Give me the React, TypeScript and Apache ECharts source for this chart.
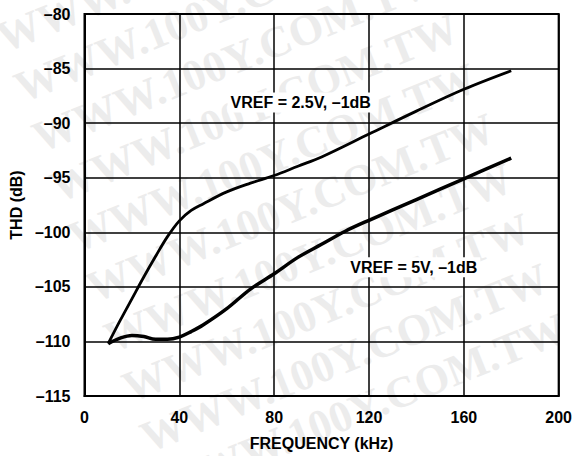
import React, { useEffect, useRef } from "react";
import * as echarts from "echarts";

const xTicks = [0, 40, 80, 120, 160, 200];
const yRange = [-115, -80];

const upperFreq = [10, 15, 20, 25, 30, 35, 40, 45, 50, 60, 70, 80, 90, 100, 120, 140, 160, 180];
const upperTHD = [-110.2, -108.1, -106.1, -104.1, -102.2, -100.4, -98.95, -98.0, -97.4, -96.3, -95.5, -94.8, -93.95, -93.1, -91.0, -88.9, -86.9, -85.2];

const lowerFreq = [10, 15, 20, 25, 30, 35, 40, 45, 50, 60, 70, 80, 90, 100, 110, 120, 140, 160, 180];
const lowerTHD = [-110.2, -109.7, -109.45, -109.55, -109.8, -109.8, -109.6, -109.1, -108.5, -107.0, -105.2, -103.8, -102.3, -101.1, -99.9, -98.9, -97.0, -95.1, -93.2];

const upperLabel = "VREF = 2.5V, \u20131dB";
const upperLabelAt = [91.2, -88.1];
const lowerLabel = "VREF = 5V, \u20131dB";
const lowerLabelAt = [138.9, -103.2];

const watermark = "WWW.100Y.COM.TW";
const watermarkStarts = [
  [-11, 10], [7, 60], [25, 110], [43, 160], [61, 210], [79, 260], [97, 310], [115, 360], [133, 410], [151, 460], [169, 510],
];

const FONT = "Liberation Sans, Arial, Helvetica, sans-serif";
const dash = (v: number) => (v < 0 ? "\u2013" + Math.abs(v) : String(v));

export default function App() {
  const ref = useRef<HTMLDivElement>(null);
  useEffect(() => {
    if (!ref.current) return;
    const chart = echarts.init(ref.current, null, { renderer: "svg" });
    const labelStyle = {
      show: true,
      color: "#000",
      fontFamily: FONT,
      fontWeight: "bold" as const,
      fontSize: 16,
      backgroundColor: "#fff",
      padding: [2, 3, 2, 3],
      position: "inside" as const,
    };
    chart.setOption({
      animation: false,
      backgroundColor: "#fff",
      graphic: watermarkStarts.map(([x, y]) => ({
        type: "text",
        x,
        y,
        rotation: (22 * Math.PI) / 180,
        z: -10,
        silent: true,
        style: {
          text: watermark,
          fill: "#ececec",
          font: "bold 44px 'Liberation Serif', 'Times New Roman', serif",
          textAlign: "left",
          textVerticalAlign: "bottom",
        },
      })),
      grid: {
        left: 84,
        top: 14,
        right: 12.5,
        bottom: 58,
        show: true,
        borderColor: "#000",
        borderWidth: 2,
        backgroundColor: "transparent",
        z: 1,
      },
      xAxis: {
        type: "value",
        min: xTicks[0],
        max: xTicks[xTicks.length - 1],
        interval: 40,
        name: "FREQUENCY (kHz)",
        nameLocation: "middle",
        nameGap: 39,
        nameTextStyle: { color: "#000", fontFamily: FONT, fontWeight: "bold", fontSize: 16 },
        axisLine: { show: true, lineStyle: { color: "#000", width: 2 } },
        axisTick: { show: false },
        axisLabel: { color: "#000", fontFamily: FONT, fontWeight: "bold", fontSize: 16, margin: 13 },
        splitLine: { show: true, lineStyle: { color: "#000", width: 1.5 } },
      },
      yAxis: {
        type: "value",
        min: yRange[0],
        max: yRange[1],
        interval: 5,
        name: "THD (dB)",
        nameLocation: "middle",
        nameGap: 60,
        nameRotate: 90,
        nameTextStyle: { color: "#000", fontFamily: FONT, fontWeight: "bold", fontSize: 16 },
        axisLine: { show: true, lineStyle: { color: "#000", width: 2 } },
        axisTick: { show: false },
        axisLabel: {
          color: "#000",
          fontFamily: FONT,
          fontWeight: "bold",
          fontSize: 16,
          margin: 14,
          formatter: (v: number) => dash(v),
        },
        splitLine: { show: true, lineStyle: { color: "#000", width: 1.5 } },
      },
      series: [
        {
          type: "line",
          name: "VREF = 2.5V",
          data: upperFreq.map((f, i) => [f, upperTHD[i]]),
          smooth: 0.35,
          showSymbol: false,
          lineStyle: { color: "#000", width: 2.8 },
          z: 3,
          markPoint: {
            symbol: "rect",
            symbolSize: 0,
            silent: true,
            data: [{ coord: upperLabelAt, value: upperLabel }],
            label: { ...labelStyle, formatter: upperLabel },
          },
        },
        {
          type: "line",
          name: "VREF = 5V",
          data: lowerFreq.map((f, i) => [f, lowerTHD[i]]),
          smooth: 0.35,
          showSymbol: false,
          lineStyle: { color: "#000", width: 3.5 },
          z: 3,
          markPoint: {
            symbol: "rect",
            symbolSize: 0,
            silent: true,
            data: [{ coord: lowerLabelAt, value: lowerLabel }],
            label: { ...labelStyle, formatter: lowerLabel },
          },
        },
      ],
    });
    return () => chart.dispose();
  }, []);
  return <div ref={ref} style={{ width: 575, height: 456, position: "absolute", left: 0, top: 0 }} />;
}
